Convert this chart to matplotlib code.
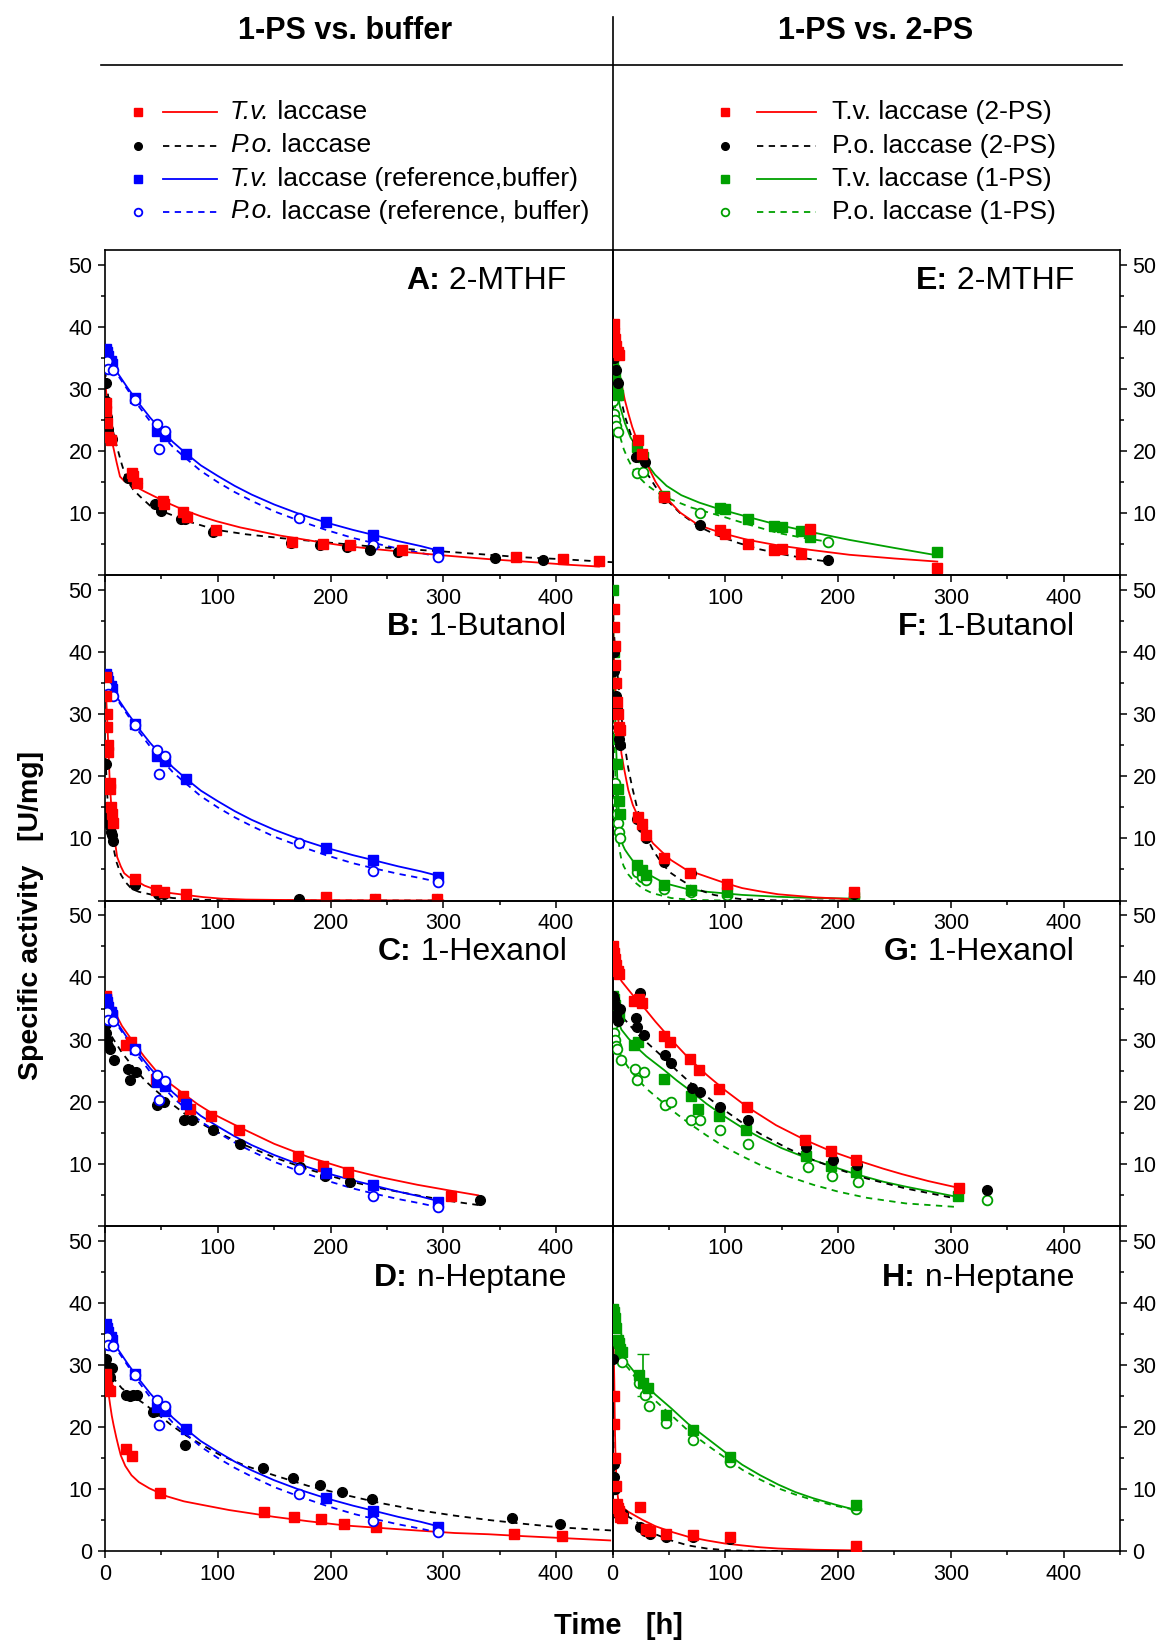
import matplotlib
matplotlib.use("Agg")
import matplotlib.pyplot as plt
from matplotlib.ticker import MultipleLocator

plt.rcParams['font.family'] = ['Liberation Sans', 'DejaVu Sans']

RED = '#ff0000'
BLUE = '#0000ff'
GREEN = '#00a000'
BLACK = '#000000'

# ---- data: (time [h], specific activity [U/mg]) ----
# reference (buffer) series, same in A-D
REF_TV = ([1, 2, 3, 5, 6, 27, 46, 53, 72, 196, 238, 295],
          [36.5, 36.0, 35.3, 34.5, 34.0, 28.5, 23.2, 22.5, 19.6, 8.5, 6.5, 3.8])
REF_PO = ([2, 3, 7, 27, 46, 48, 53, 172, 238, 295],
          [34.5, 33.2, 33.0, 28.3, 24.3, 20.3, 23.3, 9.2, 4.8, 3.0])
REF_T = [0, 5, 10, 20, 30, 40, 50, 60, 72, 85, 100, 115, 130, 150, 172, 196, 220, 238, 260, 280, 295]
REF_TV_FIT = (REF_T, [35.8, 34.5, 32.9, 30.2, 27.7, 25.4, 23.4, 21.5, 19.6, 17.7, 16.0, 14.4, 13.0,
                      11.4, 9.9, 8.5, 7.3, 6.5, 5.5, 4.7, 4.0])
REF_PO_FIT = (REF_T, [35.0, 33.9, 32.6, 29.9, 27.2, 24.8, 22.7, 20.7, 18.8, 16.8, 15.0, 13.4, 12.0,
                      10.3, 8.8, 7.3, 6.0, 5.2, 4.3, 3.6, 3.0])

# A: 2-MTHF (1-PS)
A_tv = ([0.5, 1, 2, 3, 5, 23.5, 25, 28, 51, 52, 69, 73, 98, 166, 193, 217, 263, 364, 406, 438],
        [27.7, 26.5, 24.5, 22.3, 21.8, 16.4, 16.0, 14.8, 12.0, 11.5, 10.2, 9.4, 7.3, 5.4, 5.0, 4.8, 4.0, 3.0, 2.6, 2.3])
A_po = ([0.5, 1, 2, 3, 6, 20, 25, 28, 44, 50, 67, 71, 96, 165, 191, 215, 235, 260, 346, 388],
        [31, 28, 25.5, 23.5, 22, 15.6, 15.3, 14.8, 11.4, 10.4, 9.1, 9.1, 6.9, 5.2, 4.8, 4.5, 4.0, 3.7, 2.8, 2.4])
A_tv_fit = ([0, 1, 2, 3, 4, 5.5, 7.4, 10.4, 13.3, 17, 25, 35, 45, 55, 70, 85, 99, 120, 155, 185,
             214, 240, 263, 300, 340, 380, 410, 438],
            [32, 29.7, 27.5, 25.4, 23.5, 22.0, 20.6, 18.1, 15.9, 15.2, 14.5, 13.5, 12.6, 11.7, 10.5,
             9.5, 8.7, 7.7, 6.4, 5.5, 4.7, 4.2, 3.8, 3.2, 2.6, 2.1, 1.7, 1.4])
A_po_fit = ([0, 1.5, 3, 6, 10.4, 15, 19.3, 25, 31, 40, 55, 75, 99, 125, 155, 185, 214, 245, 277,
             310, 340, 370, 404, 450],
            [33, 31, 28.5, 24, 20.8, 17.8, 15.4, 13.8, 12.7, 11.2, 10.0, 8.6, 7.3, 6.6, 6.0, 5.5, 5.0,
             4.5, 4.1, 3.7, 3.3, 2.9, 2.6, 2.1])

# B: 1-Butanol (1-PS)
B_tv = ([0.5, 1, 1.5, 2, 2.5, 3, 4, 4.5, 5, 6, 7, 26.6, 45.6, 52, 71.6, 196, 239, 294],
        [36, 33, 30, 28, 25, 24, 19, 18, 15, 14, 12.5, 3.5, 1.7, 1.4, 1.0, 0.5, 0.3, 0.3])
B_po = ([0.5, 1, 1.5, 2, 3, 4, 5, 6, 7, 26.6, 47, 52, 172, 239, 294],
        [24, 22, 15, 14, 13, 12, 11, 10.5, 9.6, 2.5, 1.1, 1.0, 0.2, 0.2, 0.2])
B_tv_fit = ([0, 1, 2, 3, 4, 5, 6, 8, 10.8, 14, 17, 21, 26.6, 35, 45.6, 58, 71, 87, 103, 125, 150,
             200, 300],
            [37, 33, 29, 24.5, 20, 16.8, 14, 10.5, 7.0, 5.5, 4.4, 3.8, 3.3, 2.4, 1.7, 1.2, 0.9, 0.55,
             0.3, 0.15, 0.1, 0.05, 0.0])
B_po_fit = ([0, 1, 2, 3, 4, 5, 6, 7.6, 10, 14, 18, 23.5, 30, 42.5, 60, 87, 120, 150, 300],
            [25, 21, 17, 14.8, 13, 11.6, 10.2, 8.4, 6.3, 4.2, 3.0, 1.9, 1.4, 0.9, 0.4, 0.1, 0.0, 0.0, 0.0])

# C: 1-Hexanol (1-PS)
C_tv = ([0.5, 1, 2, 4, 6, 18.7, 22.8, 45.6, 69.4, 75.8, 94, 118.5, 171.5, 193.7, 215.5, 306.5],
        [37, 36.6, 35.5, 34.5, 33.8, 29.1, 29.6, 23.7, 20.9, 18.8, 17.7, 15.5, 11.3, 9.6, 8.6, 4.8])
C_po = ([0.5, 1, 2, 3, 4, 7.6, 20.3, 21.9, 27.6, 46.3, 52, 70, 77.3, 95.7, 120, 173, 195, 217.4, 332.5],
        [32.5, 31, 30, 29, 28.5, 26.7, 25.3, 23.5, 24.8, 19.4, 20.0, 17.0, 17.1, 15.5, 13.2, 9.5, 8.0, 7.0, 4.1])
C_tv_fit = ([0, 7.6, 15, 23.5, 35, 45.6, 57, 69.4, 82, 96, 120, 150, 180, 213.6, 245, 277, 305, 331],
            [37.5, 34.8, 32.2, 30, 27.2, 24.9, 23.0, 21.3, 19.6, 18.0, 15.8, 13.2, 11.1, 9.2, 7.8, 6.6,
             5.7, 4.9])
C_po_fit = ([0.6, 7.6, 15, 26.6, 36, 45.6, 58, 71, 83, 96, 120, 150, 180, 213.6, 245, 277, 305, 332.5],
            [32.1, 30, 27.9, 25.2, 23.3, 21.7, 19.8, 18.0, 16.7, 15.4, 13.3, 11.0, 9.1, 7.3, 6.0, 4.9,
             4.0, 3.3])

# D: n-Heptane (1-PS)
D_tv = ([0.5, 1, 2, 3, 4, 18.7, 23.5, 48.8, 140.7, 167.7, 191.4, 212, 240.6, 362.6, 404.8],
        [28.5, 27.5, 26.5, 26, 25.8, 16.5, 15.3, 9.4, 6.3, 5.4, 5.1, 4.4, 3.8, 2.7, 2.4])
D_po = ([0.5, 1, 2, 4, 6, 18.7, 21.9, 25, 28.2, 42.5, 45.6, 71, 139.8, 166.7, 190.5, 210.5, 236.5, 361, 403.8],
        [31, 30, 29, 28, 29.5, 25.1, 24.9, 25.1, 25.1, 22.4, 22.6, 17.1, 13.3, 11.7, 10.6, 9.5, 8.3, 5.3, 4.3])
D_tv_fit = ([0.6, 1.5, 2.9, 4.5, 6, 7.6, 10, 12, 14, 18, 23.5, 30, 39.3, 55, 70, 87, 110, 150, 180,
             213.6, 245, 277, 310, 340, 370, 404, 448],
            [31, 28.7, 25.7, 23.6, 21.8, 20.3, 18.3, 16.8, 15.4, 13.7, 12.2, 11.1, 10.1, 8.8, 8.0, 7.4,
             6.6, 5.5, 4.8, 4.1, 3.7, 3.3, 2.9, 2.7, 2.4, 2.1, 1.7])
D_po_fit = ([0.6, 7.6, 15, 23.5, 35, 45.6, 58, 71, 87, 102.7, 125, 150, 180, 213.6, 245, 277, 310,
             340, 370, 404, 450],
            [29.7, 27.8, 26.2, 25.1, 23.7, 22.2, 20.4, 18.7, 17.0, 15.4, 13.7, 12.2, 10.5, 9.0, 7.7, 6.6,
             5.7, 5.0, 4.4, 3.8, 3.3])

# E: 2-MTHF (2-PS vs 1-PS)
E_tv = ([1, 1.5, 2, 3, 5, 6, 22.7, 26, 46, 95, 99.5, 120, 143, 150, 167, 175, 288],
        [40.5, 39, 38, 37, 36, 35.5, 21.8, 19.6, 12.6, 7.3, 6.7, 5.0, 4.0, 4.3, 3.4, 7.5, 1.1])
E_po = ([0.5, 1, 3, 5, 20.5, 28.5, 46, 78, 191],
        [36, 35, 33, 31, 19.1, 18.3, 12.4, 8.1, 2.4])
E_tv1 = ([0.5, 1, 2, 3, 4, 5, 22, 27, 46, 95, 99.5, 120, 143, 150, 167, 175, 288],
         [34, 33, 32, 31, 30, 29, 20.7, 19, 12.7, 10.8, 10.6, 9.1, 8.0, 7.8, 7.1, 6.1, 3.8])
E_po1 = ([0.5, 1, 2, 3, 5, 22, 27, 46, 78, 191],
         [28, 26, 25, 24, 23, 16.4, 16.7, 12.6, 10.1, 5.4])
E_tv_fit = ([0, 1, 2.2, 4, 6, 8.2, 11, 14, 17.5, 21.5, 26, 31.7, 38, 46.5, 60, 76, 96.8, 120, 147,
             175, 210, 250, 288],
            [41.5, 39.5, 37.2, 34.9, 32.7, 30.6, 28.2, 26.1, 23.9, 21.9, 19.7, 17.5, 15.1, 12.7, 10.1,
             8.1, 6.8, 5.7, 4.8, 4.1, 3.3, 2.7, 2.2])
E_po_fit = ([0, 2.2, 5, 8, 11, 15, 19, 23, 30, 38, 46.5, 60, 76, 93, 111.6, 130, 153, 175, 191],
            [36.5, 34.3, 31.0, 28.0, 25.6, 23.4, 21.2, 19.2, 16.6, 14.3, 12.4, 10.0, 7.9, 6.4, 5.2, 4.2,
             3.3, 2.6, 2.2])
E_tv1_fit = ([0, 1, 2.2, 4, 6.5, 11, 16, 23, 30, 37.7, 48, 61, 77, 94, 120, 147, 175, 210, 250, 288],
             [35.2, 33.6, 32, 29.8, 27.3, 24.5, 22.2, 20.2, 18.1, 16.2, 14.4, 12.9, 11.7, 10.7, 9.4, 8.1,
              7.0, 5.7, 4.4, 3.2])
E_po1_fit = ([0, 0.7, 3, 6.6, 10, 14, 18, 23, 30, 40, 52, 70, 97, 120, 147, 170, 191],
             [33.6, 29.5, 26.0, 22.4, 20.3, 18.6, 17.2, 15.9, 14.6, 13.3, 12.2, 10.9, 9.5, 8.2, 6.8, 6.0, 5.4])

# F: 1-Butanol (2-PS vs 1-PS)
F_tv = ([1, 1.5, 2, 2.5, 3, 4, 5, 6, 7, 22.7, 26, 30, 46, 69, 101.5, 214.5],
        [47, 44, 41, 38, 35, 32, 30, 28, 27.5, 13.5, 12.3, 10.5, 6.8, 4.4, 2.7, 1.3])
F_po = ([0.5, 1, 1.5, 2, 3, 4, 5, 6, 7, 22, 25.9, 30, 46, 69.4, 101.5, 214.5],
        [44, 40, 37, 35, 33, 31, 28, 26, 25, 13.2, 11.8, 10, 6.2, 4.4, 2.7, 1.1])
F_tv1 = ([0.5, 1, 1.5, 2, 3, 4, 5, 6, 7, 22, 26, 30, 46, 69.4, 101.5, 214.5],
         [50, 40, 35, 30, 26, 22, 18, 16, 14, 5.7, 4.9, 4.1, 2.5, 1.7, 1.3, 0.6])
F_po1 = ([0.5, 1, 1.5, 2, 3, 4, 5, 6, 7, 22, 26, 30, 46, 69.4, 101.5, 214.5],
         [35, 28, 22, 19, 16, 14, 12.5, 11, 10, 4.6, 3.8, 3.3, 1.9, 1.4, 0.9, 0.5])
F_tv_fit = ([0, 0.8, 1.6, 3, 4.7, 6.5, 7.9, 10, 14, 18, 22.7, 29, 36, 44, 52, 65, 84, 100, 115, 130,
             147, 180, 214],
            [50, 42, 37, 33, 30, 26.5, 23.7, 21.5, 17.8, 15.4, 13.5, 11.1, 9.2, 7.8, 6.5, 5.0, 3.8, 2.8,
             2.0, 1.5, 1.0, 0.5, 0.2])
F_po_fit = ([0, 1, 2.5, 4.7, 7, 9, 11, 14, 17.4, 22, 26.8, 31, 36, 44, 52, 60, 68, 80, 90, 102, 115,
             150, 214],
            [50, 44, 40, 36, 31.5, 27.8, 24.8, 21.3, 18.3, 14.8, 11.9, 9.9, 8.1, 5.9, 4.4, 3.4, 2.5, 1.5,
             0.9, 0.5, 0.2, 0.0, 0.0])
F_tv1_fit = ([0.3, 1, 2, 3.2, 4.5, 5.5, 6.3, 7.5, 9, 11, 14, 18, 22, 30, 46, 65, 84, 115, 147, 180, 214.5],
             [49.5, 42, 32, 24.8, 18.5, 14.5, 12.2, 10.3, 9.0, 8.2, 7.4, 6.4, 5.5, 4.4, 2.8, 1.9, 1.4,
              0.9, 0.6, 0.4, 0.3])
F_po1_fit = ([0.3, 1, 2, 3.2, 4.5, 5.5, 6.3, 8, 10, 14, 20, 27, 35, 52, 70, 100],
             [38, 31, 22.5, 17, 12, 9.5, 8.1, 6.5, 5.5, 4.2, 2.9, 1.9, 1.2, 0.4, 0.1, 0.0])

# G: 1-Hexanol (2-PS vs 1-PS); 1-PS data as in C
G_tv = ([0.5, 1, 2, 3, 5, 6, 19, 23.7, 26.2, 45.7, 51, 68.8, 76.7, 94.6, 119, 171, 194, 216, 307],
        [45, 44, 43, 42, 41, 40.5, 36.2, 36.5, 35.9, 30.5, 29.6, 26.9, 25.1, 22.0, 19.2, 13.8, 12.0, 10.6, 6.1])
G_po = ([0.5, 1, 2, 3, 5, 7, 20.5, 22, 24.3, 27.8, 46.7, 52, 70.3, 77.9, 95.3, 120, 172, 195.6, 216.7, 332],
        [37, 36.5, 35.5, 34, 33, 35, 33.4, 32.0, 37.5, 30.8, 27.5, 26.3, 22.2, 21.6, 19.2, 17.0, 12.7, 10.6, 9.8, 5.7])
G_tv_fit = ([1, 2.5, 4.7, 8, 14.2, 20, 26.8, 38, 52, 67, 83.6, 100, 119, 145, 171, 194, 216, 240, 257,
             280, 307],
            [44, 42.3, 40.7, 39.4, 38, 36.7, 35.4, 32.9, 30, 27.1, 24.3, 21.8, 19.2, 16.2, 13.8, 12.0,
             10.6, 9.2, 8.3, 7.2, 6.1])
G_T = [1, 4, 7.9, 14, 20.5, 30, 45.7, 57, 68, 83, 99.4, 115, 131, 155, 178, 200, 225.6, 260, 307]
G_po_fit = (G_T, [37, 35.3, 33.8, 32.6, 31.2, 29.6, 27.0, 25.0, 23.2, 20.9, 18.6, 16.6, 14.8, 12.5,
                  10.6, 9.1, 7.6, 6.0, 4.3])
G_po1_fit = (G_T, [31.5, 29.1, 27.2, 25.5, 24.0, 22.1, 19.7, 18.0, 16.5, 14.6, 12.7, 11.2, 9.8, 8.0,
                   6.6, 5.5, 4.5, 3.6, 3.0])
G_tv1_fit = ([1, 4, 7.9, 14, 20.5, 30, 45.7, 57, 68, 83, 99.4, 115, 131, 150, 171, 194, 216, 240, 260,
              285, 307],
             [36.4, 33.5, 31.6, 30.2, 28.9, 27.3, 25.1, 23.4, 21.9, 19.7, 17.6, 15.8, 14.2, 12.5, 11.0,
              9.6, 8.3, 7.1, 6.3, 5.4, 4.6])

# H: n-Heptane (2-PS vs 1-PS)
H_tv = ([1, 1.5, 2, 3, 4, 5, 6, 7, 8, 24.3, 30, 33, 47.3, 71.6, 104, 216],
        [25, 20.5, 15, 10.5, 7.5, 7, 6.5, 5.5, 5.3, 7.1, 3.6, 3.3, 2.8, 2.6, 2.3, 0.8])
H_po = ([0.5, 1, 1.5, 2, 3, 4, 5, 7, 9, 24.3, 28.4, 33, 47.3, 71.6, 104, 216],
        [31, 14, 12, 10, 7, 6.5, 6, 5.5, 6, 3.9, 3.3, 2.8, 2.3, 2.2, 2.0, 0.5])
H_tv1 = ([0.5, 1, 2, 3, 5, 6, 7, 8, 23.7, 26.8, 31.5, 47.3, 71.6, 104, 216],
         [39, 38.5, 37.5, 36, 34, 33.5, 32.5, 32, 28.4, 27.0, 26.2, 21.9, 19.5, 15.2, 7.4])
H_po1 = ([0.5, 1, 2, 3, 5, 7, 8, 23.7, 28.4, 32.5, 47.3, 71.6, 104, 216],
         [38, 37, 36, 35, 33.5, 32, 30.5, 27.0, 25.1, 23.4, 20.7, 17.9, 14.4, 6.8])
# the one large error bar in H (T.v., 1-PS)
H_tv1_err_t = [26.8]
H_tv1_err_y = [27.0]
H_tv1_err = ([2.0], [4.8])
H_tv_fit = ([0.6, 1, 1.6, 2, 2.5, 3, 3.8, 5, 6.3, 9, 14.2, 20, 26.8, 38, 52, 67, 83.6, 100, 115, 131,
             147, 180, 216],
            [38, 33, 27.3, 21.5, 16.5, 13.5, 10.1, 8.4, 7.6, 7.0, 6.3, 5.7, 5.0, 4.0, 3.1, 2.3, 1.7, 1.2,
             0.9, 0.6, 0.4, 0.2, 0.1])
H_po_fit = ([0.3, 0.6, 1, 1.5, 2.2, 3, 4.7, 8, 14.2, 19, 26.8, 38, 52, 67, 83.6, 100, 115, 150],
            [32.7, 25, 16.5, 11.5, 8.5, 7.0, 5.8, 5.6, 5.5, 5.0, 3.9, 2.7, 1.7, 0.9, 0.4, 0.15, 0.05, 0.0])
H_T = [1, 2.5, 4.7, 8, 14.2, 20, 26.8, 38, 52, 67, 83.6, 100, 115, 131, 147, 162, 178, 197, 216]
H_tv1_fit = (H_T, [37.5, 35.3, 32.7, 31.2, 30, 28.7, 27.3, 25.2, 23, 20.5, 18.2, 15.9, 13.9, 12.2,
                   10.7, 9.5, 8.5, 7.5, 6.6])
H_po1_fit = (H_T, [37, 34.8, 32.1, 30.6, 29.4, 28.0, 26.2, 24.2, 21.9, 19.4, 17.1, 15.0, 13.1, 11.5,
                   10.1, 9.1, 8.2, 7.3, 6.6])

# panel titles
TITLES = ['A:', 'B:', 'C:', 'D:', 'E:', 'F:', 'G:', 'H:']
SOLVENTS = ['2-MTHF', '1-Butanol', '1-Hexanol', 'n-Heptane',
            '2-MTHF', '1-Butanol', '1-Hexanol', 'n-Heptane']

# series: (points, fit, color, marker kind, dashed?)
left_panels = [
    [(REF_TV, REF_TV_FIT, BLUE, 's', False), (REF_PO, REF_PO_FIT, BLUE, 'o', True),
     (A_po, A_po_fit, BLACK, 'c', True), (A_tv, A_tv_fit, RED, 's', False)],
    [(REF_TV, REF_TV_FIT, BLUE, 's', False), (REF_PO, REF_PO_FIT, BLUE, 'o', True),
     (B_po, B_po_fit, BLACK, 'c', True), (B_tv, B_tv_fit, RED, 's', False)],
    [(C_po, C_po_fit, BLACK, 'c', True), (C_tv, C_tv_fit, RED, 's', False),
     (REF_TV, REF_TV_FIT, BLUE, 's', False), (REF_PO, REF_PO_FIT, BLUE, 'o', True)],
    [(D_po, D_po_fit, BLACK, 'c', True), (D_tv, D_tv_fit, RED, 's', False),
     (REF_TV, REF_TV_FIT, BLUE, 's', False), (REF_PO, REF_PO_FIT, BLUE, 'o', True)],
]
right_panels = [
    [(E_po1, E_po1_fit, GREEN, 'o', True), (E_tv1, E_tv1_fit, GREEN, 's', False),
     (E_po, E_po_fit, BLACK, 'c', True), (E_tv, E_tv_fit, RED, 's', False)],
    [(F_po1, F_po1_fit, GREEN, 'o', True), (F_tv1, F_tv1_fit, GREEN, 's', False),
     (F_po, F_po_fit, BLACK, 'c', True), (F_tv, F_tv_fit, RED, 's', False)],
    [(C_po, G_po1_fit, GREEN, 'o', True), (C_tv, G_tv1_fit, GREEN, 's', False),
     (G_po, G_po_fit, BLACK, 'c', True), (G_tv, G_tv_fit, RED, 's', False)],
    [(H_po1, H_po1_fit, GREEN, 'o', True), (H_tv1, H_tv1_fit, GREEN, 's', False),
     (H_po, H_po_fit, BLACK, 'c', True), (H_tv, H_tv_fit, RED, 's', False)],
]

W, H = 1158, 1641
fig = plt.figure(figsize=(W / 100, H / 100), dpi=100)
DASH = (0, (3.5, 3))


def px(x0, y0, w, h):
    return [x0 / W, 1 - (y0 + h) / H, w / W, h / H]


def marker_kw(color, mk, ms):
    if mk == 's':
        return dict(marker='s', ms=ms, mfc=color, mec=color)
    if mk == 'c':
        return dict(marker='o', ms=ms, mfc=color, mec=color)
    return dict(marker='o', ms=ms, mfc='white', mec=color, mew=1.3)


def draw_series(ax, pts, fit, color, mk, dashed):
    ax.plot(fit[0], fit[1], color=color, lw=1.3, ls=DASH if dashed else '-', zorder=2)
    ax.plot(pts[0], pts[1], ls='none', zorder=3, **marker_kw(color, mk, 7))


x_left, x_mid, x_right = 105, 612.5, 1120
y_top, row_h = 250, 325.25
pw = x_mid - x_left
axes = {}
for col, panels in enumerate([left_panels, right_panels]):
    for row, series in enumerate(panels):
        x0 = x_left if col == 0 else x_mid
        ax = fig.add_axes(px(x0, y_top + row * row_h, pw, row_h))
        axes[(col, row)] = ax
        ax.set_facecolor('none')
        for s in series:
            draw_series(ax, *s)
        ax.set_xlim(0, 450)
        ax.set_ylim(0, 52.4)
        ax.xaxis.set_minor_locator(MultipleLocator(50))
        ax.yaxis.set_minor_locator(MultipleLocator(5))
        last = row == 3
        ax.set_xticks([0, 100, 200, 300, 400])
        ax.set_xticklabels(['0' if last else '', '100', '200', '300', '400'])
        ax.set_yticks([0, 10, 20, 30, 40, 50])
        ax.set_yticklabels(['0' if last else '', '10', '20', '30', '40', '50'])
        ax.tick_params(axis='both', which='both', direction='out', labelsize=15.5, width=1.1)
        ax.tick_params(axis='both', which='major', length=5, pad=4)
        ax.tick_params(axis='both', which='minor', length=3)
        ax.tick_params(axis='x', which='both', bottom=True, top=False)
        if col == 0:
            ax.tick_params(axis='y', which='both', left=True, right=False,
                           labelleft=True, labelright=False)
        else:
            ax.tick_params(axis='y', which='both', left=False, right=True,
                           labelleft=False, labelright=True)
        for sp in ax.spines.values():
            sp.set_linewidth(1.2)
        idx = col * 4 + row
        ty = 1 - 31 / row_h if row == 0 else 1 - 52 / row_h
        t = ax.text(1 - 46 / pw, ty, ' ' + SOLVENTS[idx], transform=ax.transAxes,
                    ha='right', va='center', fontsize=23)
        ax.annotate(TITLES[idx], xy=(0, 0), xycoords=t, ha='right', va='bottom',
                    fontsize=23, fontweight='bold')

axes[(1, 3)].errorbar(H_tv1_err_t, H_tv1_err_y, yerr=H_tv1_err, fmt='none',
                      ecolor=GREEN, elinewidth=1.2, capsize=4, zorder=2)

# header, divider and legends drawn on a full-figure overlay
ov = fig.add_axes([0, 0, 1, 1])
ov.set_xlim(0, W)
ov.set_ylim(H, 0)
ov.axis('off')
ov.plot([101, 1122], [65, 65], color='black', lw=1.2)
ov.plot([x_mid, x_mid], [17, y_top], color='black', lw=1.2)
ov.text(345, 31, '1-PS vs. buffer', ha='center', va='center', fontsize=22, fontweight='bold')
ov.text(876, 31, '1-PS vs. 2-PS', ha='center', va='center', fontsize=22, fontweight='bold')

leg_rows = [112, 145.5, 179, 211.5]
left_leg = [(RED, 's', False, 'T.v.', ' laccase'),
            (BLACK, 'c', True, 'P.o.', ' laccase'),
            (BLUE, 's', False, 'T.v.', ' laccase (reference,buffer)'),
            (BLUE, 'o', True, 'P.o.', ' laccase (reference, buffer)')]
right_leg = [(RED, 's', False, None, 'T.v. laccase (2-PS)'),
             (BLACK, 'c', True, None, 'P.o. laccase (2-PS)'),
             (GREEN, 's', False, None, 'T.v. laccase (1-PS)'),
             (GREEN, 'o', True, None, 'P.o. laccase (1-PS)')]
for entries, (mx, lx0, lx1, tx) in [(left_leg, (138, 163, 217, 230)),
                                     (right_leg, (725, 757, 816, 832))]:
    for (color, mk, dashed, it, rest), yy in zip(entries, leg_rows):
        ov.plot([mx], [yy], ls='none', **marker_kw(color, mk, 5.5))
        ov.plot([lx0, lx1], [yy, yy], color=color, lw=1.3, ls=DASH if dashed else '-')
        if it is None:
            ov.text(tx, yy, rest, ha='left', va='center', fontsize=19)
        else:
            t = ov.text(tx, yy, it, ha='left', va='center', fontsize=19, style='italic')
            ov.annotate(rest, xy=(1, 0), xycoords=t, ha='left', va='bottom', fontsize=19)

fig.text(31 / W, 1 - 915 / H, 'Specific activity   [U/mg]', rotation=90,
         ha='center', va='center', fontsize=20.5, fontweight='bold')
fig.text(618 / W, 1 - 1626 / H, 'Time   [h]', ha='center', va='center',
         fontsize=21, fontweight='bold')

fig.savefig('out.png', dpi=100)
